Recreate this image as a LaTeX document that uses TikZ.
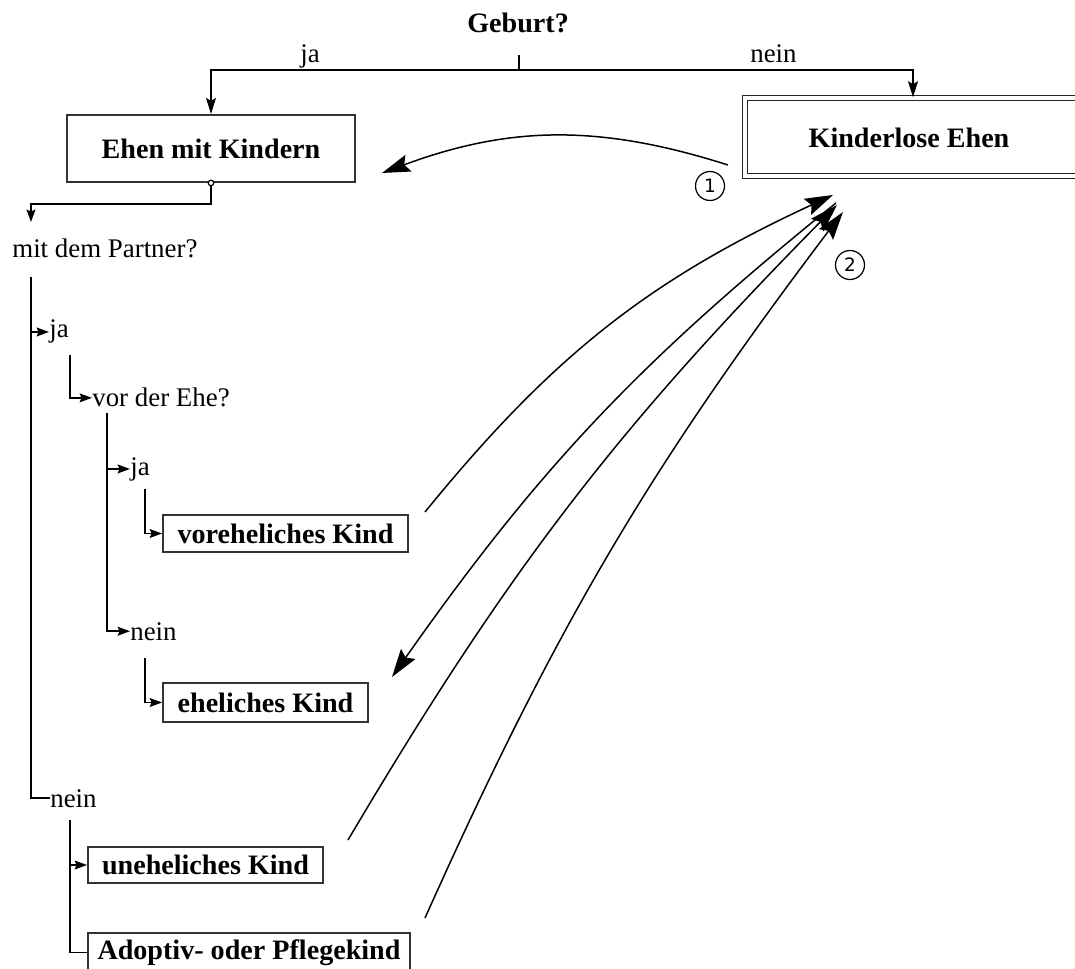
\documentclass[tikz,border=0pt]{standalone}
\usepackage{fontspec}
\setmainfont{Liberation Serif}
\newfontfamily\numfont{DejaVu Sans}
\usetikzlibrary{arrows.meta}
\begin{document}
\begin{tikzpicture}[x=0.02cm,y=-0.02cm,
  lab/.style={inner sep=0pt, font=\fontsize{15.3}{18}\selectfont},
  boldlab/.style={inner sep=0pt, font=\fontsize{16}{19}\selectfont\bfseries},
  kbox/.style={draw=black!80, line width=1.1pt, inner sep=0pt,
    font=\fontsize{16}{19}\selectfont\bfseries},
  treeline/.style={line width=1pt},
  treearrow/.style={line width=1pt, -{Stealth[length=7pt,width=5pt,inset=1pt]}},
  downarrow/.style={line width=1.5pt, -{Stealth[length=9pt,width=5.5pt,inset=1.5pt]}},
  bigarrow/.style={line width=0.85pt, -{Stealth[length=16pt,width=10pt,inset=2.5pt]}},
  num/.style={circle, draw, line width=0.7pt, minimum size=0.58cm, inner sep=0pt,
    font=\numfont\fontsize{10.5}{12}\selectfont}
]
\useasboundingbox (0,0) rectangle (1075,969);
\fill[white] (0,0) rectangle (1075,969);
\clip (0,0) rectangle (1075,969);

% question at the top and its two answers
\node[boldlab, anchor=base west] (geburt) at (467,33) {Geburt?};
\node[lab, anchor=base west] (topja) at (300,63) {ja};
\node[lab, anchor=base west] (topnein) at (750,63) {nein};

% the two kinds of marriage
\node[kbox, minimum width=5.76cm, minimum height=1.34cm] (ehen) at (211,148.5) {Ehen mit Kindern};
\node[draw=black!85, line width=0.8pt, double, double distance=2.2pt,
      minimum width=6.72cm, minimum height=1.56cm, inner sep=0pt] (kl) at (913,137) {};
\node[boldlab] (kltext) at (909,137.5) {Kinderlose Ehen};

% branching from the question
\coordinate (tick) at (519,55);
\coordinate (split) at (519,70);
\draw[line width=1.5pt] (tick) -- (split);
\draw[downarrow] (split) -| (ehen.north);
\draw[downarrow] (split) -| (kl.north);

% decision tree below "Ehen mit Kindern"
\node[lab, anchor=base west] (partner) at (12,258) {mit dem Partner?};
\node[lab, anchor=base west] (ja1) at (49,338) {ja};
\node[lab, anchor=base west] (vor) at (92,407) {vor der Ehe?};
\node[lab, anchor=base west] (ja2) at (130,475) {ja};
\node[lab, anchor=base west] (nein2) at (130,640) {nein};
\node[lab, anchor=base west] (nein1) at (50,807) {nein};

\node[kbox, minimum width=4.9cm, minimum height=0.74cm] (vorehel) at (285.5,533.5) {voreheliches Kind};
\node[kbox, minimum width=4.1cm, minimum height=0.78cm] (ehel) at (265.5,702.5) {eheliches Kind};
\node[kbox, minimum width=4.7cm, minimum height=0.72cm] (unehel) at (205.5,865) {uneheliches Kind};
\node[kbox, minimum width=6.44cm, minimum height=0.78cm] (adopt) at (249,952.5) {Adoptiv- oder Pflegekind};

\coordinate (p0) at (31,222);
\draw[treearrow] (ehen.south) -- ++(0,21) -| (p0);
\node[circle, draw, fill=white, line width=0.7pt, inner sep=0pt, minimum size=0.11cm] (dot) at (ehen.south) {};

\coordinate (v1) at (31,277);
\draw[treeline] (v1) |- (nein1.west);
\draw[treearrow] (v1 |- ja1.west) -- (ja1.west);

\coordinate (v2) at (70,355);
\draw[treearrow] (v2) |- (vor.west);

\coordinate (v3) at (107,413);
\draw[treearrow] (v3) |- (nein2.west);
\draw[treearrow] (v3 |- ja2.west) -- (ja2.west);

\coordinate (v4) at (145,489);
\draw[treearrow] (v4) |- (vorehel.west);

\coordinate (v5) at (145,658);
\draw[treearrow] (v5) |- (ehel.west);

\coordinate (v6) at (70,820);
\draw[treeline] (v6) |- (adopt.west);
\draw[treearrow] (v6 |- unehel.west) -- (unehel.west);

% numbered transitions between the two kinds of marriage
\node[num] (n1) at (710,186) {1};
\node[num] (n2) at (850,265) {2};

\coordinate (a1s) at (728,165);
\coordinate (a1e) at (382,173);
\draw[bigarrow] (a1s) to[bend right=19] (a1e);

\coordinate (as) at (425,512);
\coordinate (at) at (833,195);
\coordinate (bs) at (836,203);
\coordinate (bt) at (392,677);
\coordinate (cs) at (348,840);
\coordinate (ct) at (837,205);
\coordinate (ds) at (425,918);
\coordinate (dt) at (843,212);
\draw[bigarrow] (as) to[bend left=13] (at);
\draw[bigarrow] (bs) to[bend right=8] (bt);
\draw[bigarrow] (cs) to[bend left=7] (ct);
\draw[bigarrow] (ds) to[bend left=6.5] (dt);
\end{tikzpicture}
\end{document}
